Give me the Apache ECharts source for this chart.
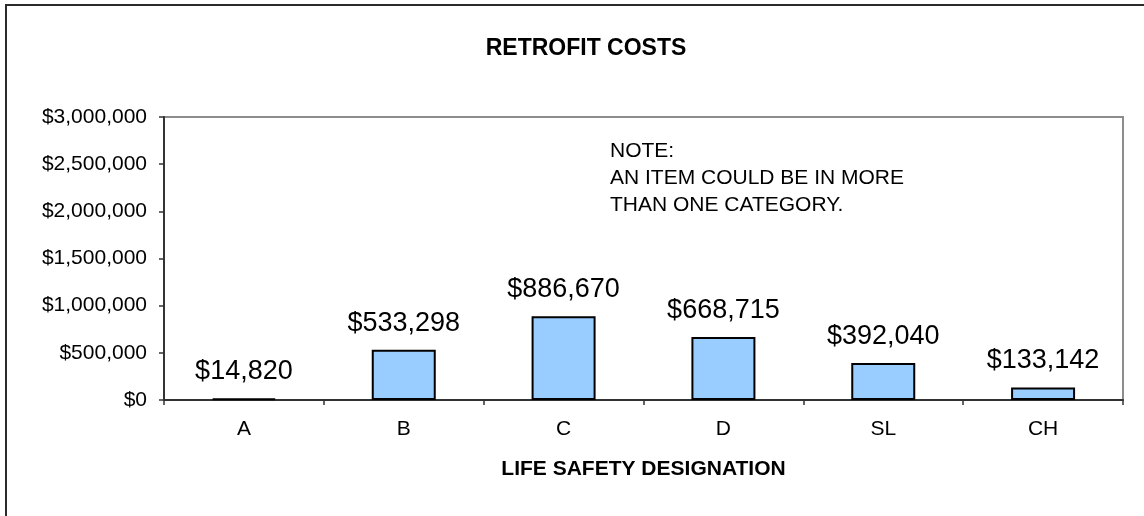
<!DOCTYPE html>
<html>
<head>
<meta charset="utf-8">
<style>
  html, body { margin: 0; padding: 0; background: #fff; }
  #chart { width: 1144px; height: 516px; }
</style>
<script src="https://cdn.jsdelivr.net/npm/echarts@6/dist/echarts.min.js"></script>
</head>
<body>
<div id="chart"></div>
<script>
// Retrofit cost per life safety designation
const categories = ['A', 'B', 'C', 'D', 'SL', 'CH'];
const costs = [14820, 533298, 886670, 668715, 392040, 133142];
const yTicks = { min: 0, max: 3000000, interval: 500000 };
const noteLines = ['NOTE:', 'AN ITEM COULD BE IN MORE', 'THAN ONE CATEGORY.'];

const FONT = '"Liberation Sans", Arial, sans-serif';
const money = v => '$' + Number(v).toLocaleString('en-US');

const chart = echarts.init(document.getElementById('chart'), null, { renderer: 'canvas' });

chart.setOption({
  animation: false,
  backgroundColor: '#ffffff',
  textStyle: { fontFamily: FONT },
  title: {
    text: 'RETROFIT COSTS',
    left: 581,
    top: 32,
    textAlign: 'center',
    textStyle: { fontFamily: FONT, fontSize: 23, fontWeight: 'bold', color: '#000' }
  },
  graphic: [
    {
      type: 'rect',
      silent: true,
      shape: { x: 6, y: 5, width: 2000, height: 2000 },
      style: { fill: 'none', stroke: '#2b2b2b', lineWidth: 2 }
    },
    {
      type: 'text',
      left: 610,
      top: 138,
      silent: true,
      style: {
        text: noteLines.join('\n'),
        fontFamily: FONT,
        fontSize: 21,
        lineHeight: 27,
        fill: '#000'
      }
    }
  ],
  grid: {
    left: 164,
    top: 117,
    right: 21,
    bottom: 116,
    show: true,
    borderColor: '#8c8c8c',
    borderWidth: 2,
    backgroundColor: '#ffffff'
  },
  xAxis: {
    type: 'category',
    data: categories,
    name: 'LIFE SAFETY DESIGNATION',
    nameLocation: 'middle',
    nameGap: 59,
    nameTextStyle: { fontFamily: FONT, fontSize: 21, fontWeight: 'bold', color: '#000' },
    axisLine: { lineStyle: { color: '#333', width: 2 } },
    axisTick: { show: true, length: 5, lineStyle: { color: '#333', width: 1.5 } },
    axisLabel: { fontFamily: FONT, fontSize: 21, color: '#000', margin: 19 },
    splitLine: { show: false }
  },
  yAxis: {
    type: 'value',
    min: yTicks.min,
    max: yTicks.max,
    interval: yTicks.interval,
    axisLine: { show: true, lineStyle: { color: '#333', width: 2 } },
    axisTick: { show: true, length: 5, lineStyle: { color: '#333', width: 1.5 } },
    axisLabel: { fontFamily: FONT, fontSize: 21, color: '#000', margin: 17, formatter: money },
    splitLine: { show: false }
  },
  series: [
    {
      type: 'bar',
      data: costs,
      barWidth: 64,
      itemStyle: { color: '#99ccff', borderColor: '#000', borderWidth: 2 },
      label: {
        show: true,
        position: 'top',
        distance: 13,
        fontFamily: FONT,
        fontSize: 27,
        color: '#000',
        formatter: p => money(p.value)
      }
    }
  ]
});
</script>
</body>
</html>
